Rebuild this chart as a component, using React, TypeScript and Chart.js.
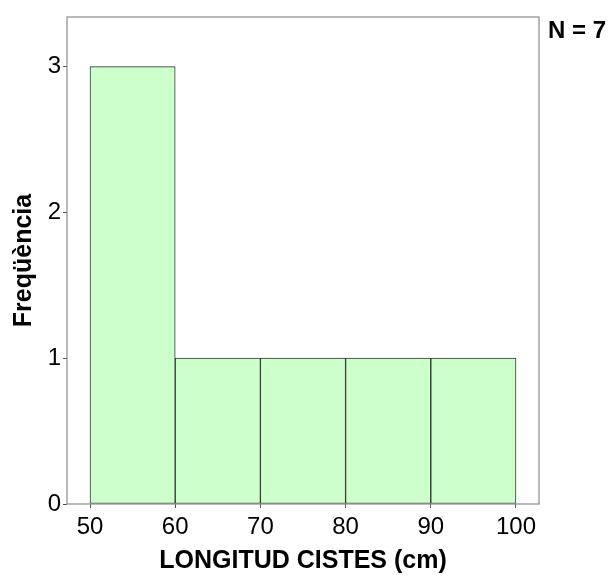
import React, { useEffect, useRef } from "react";
import { Chart, registerables } from "chart.js";

Chart.register(...registerables);

const binEdges = [50, 60, 70, 80, 90, 100];
const frequencies = [3, 1, 1, 1, 1];
const xTickValues = [50, 60, 70, 80, 90, 100];
const yTickValues = [0, 1, 2, 3];
const xAxisTitle = "LONGITUD CISTES (cm)";
const yAxisTitle = "Freqüència";
const nLabel = "N = 7";
const xRange = [47.3, 102.7];
const yRange = [0, 3.34];

const FONT = "'Liberation Sans', Arial, sans-serif";

const framePlugin = {
  id: "frame",
  afterDatasetsDraw(chart: any) {
    const { ctx, chartArea } = chart;
    const { left, top, right, bottom } = chartArea;
    ctx.save();
    ctx.strokeStyle = "#8a8a8a";
    ctx.lineWidth = 1.2;
    ctx.strokeRect(left, top, right - left, bottom - top);
    ctx.restore();
  },
};

const nPlugin = {
  id: "nLabel",
  afterDraw(chart: any) {
    const { ctx, chartArea } = chart;
    ctx.save();
    ctx.fillStyle = "#000";
    ctx.font = `bold 24px ${FONT}`;
    ctx.textAlign = "left";
    ctx.textBaseline = "middle";
    ctx.fillText(nLabel, chartArea.right + 9, chartArea.top + 14);
    ctx.restore();
  },
};

export default function App() {
  const canvasRef = useRef<HTMLCanvasElement | null>(null);

  useEffect(() => {
    if (!canvasRef.current) return;
    const points = frequencies.map((f, i) => ({
      x: (binEdges[i] + binEdges[i + 1]) / 2,
      y: f,
    }));
    const chart = new Chart(canvasRef.current, {
      type: "bar",
      data: {
        datasets: [
          {
            data: points as any,
            backgroundColor: "#ccffcc",
            borderColor: "#333333",
            borderWidth: 1,
            borderSkipped: false,
            barPercentage: 1,
            categoryPercentage: 1,
          },
        ],
      },
      options: {
        animation: false,
        responsive: true,
        maintainAspectRatio: false,
        layout: { padding: { top: 17, right: 72, left: 0, bottom: 0 } },
        plugins: {
          legend: { display: false },
          tooltip: { enabled: false },
        },
        scales: {
          x: {
            type: "linear",
            offset: false,
            min: xRange[0],
            max: xRange[1],
            afterFit: (s: any) => {
              s.height = 72;
            },
            afterBuildTicks: (s: any) => {
              s.ticks = xTickValues.map((v) => ({ value: v }));
            },
            border: { display: false },
            grid: {
              offset: false,
              drawOnChartArea: false,
              drawTicks: true,
              tickLength: 4,
              color: "#555",
            },
            ticks: {
              color: "#000",
              font: { family: FONT, size: 24 },
              padding: 5,
              maxRotation: 0,
            },
            title: {
              display: true,
              text: xAxisTitle,
              color: "#000",
              font: { family: FONT, size: 25, weight: "bold", lineHeight: 1.2 },
              padding: { top: 0, bottom: 0 },
            },
          },
          y: {
            type: "linear",
            min: yRange[0],
            max: yRange[1],
            afterFit: (s: any) => {
              s.width = 67;
            },
            afterBuildTicks: (s: any) => {
              s.ticks = yTickValues.map((v) => ({ value: v }));
            },
            border: { display: false },
            grid: {
              drawOnChartArea: false,
              drawTicks: true,
              tickLength: 4,
              color: "#555",
            },
            ticks: {
              color: "#000",
              font: { family: FONT, size: 24 },
              padding: 2,
            },
            title: {
              display: true,
              text: yAxisTitle,
              color: "#000",
              font: { family: FONT, size: 25, weight: "bold", lineHeight: 1.2 },
              padding: { top: 9, bottom: 0 },
            },
          },
        },
      },
      plugins: [framePlugin, nPlugin],
    });
    return () => chart.destroy();
  }, []);

  return (
    <div
      style={{
        position: "absolute",
        left: 0,
        top: 0,
        width: 611,
        height: 576,
        background: "#fff",
      }}
    >
      <canvas ref={canvasRef} />
    </div>
  );
}
